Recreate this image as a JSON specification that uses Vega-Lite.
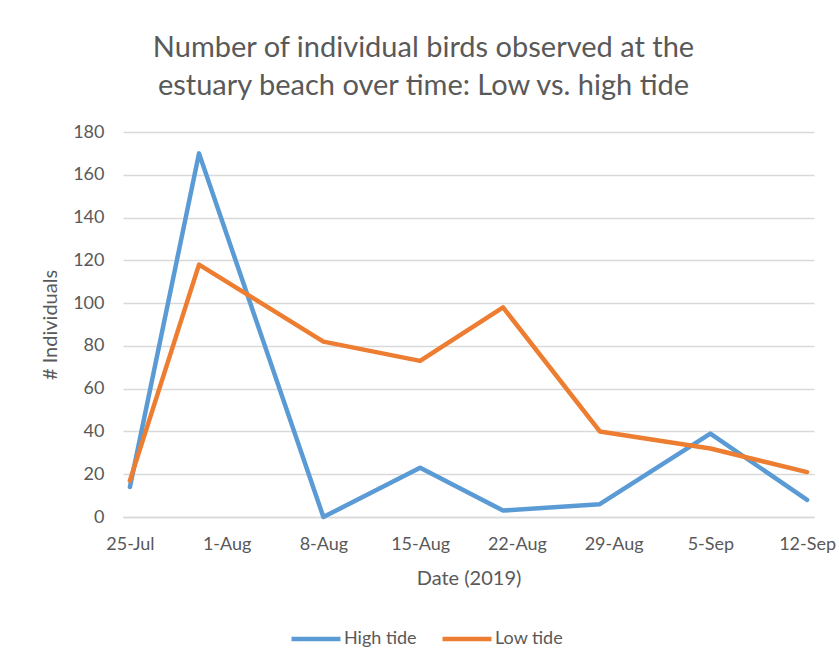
{
  "$schema": "https://vega.github.io/schema/vega-lite/v6.json",
  "width": 691,
  "height": 385,
  "autosize": {"type": "none"},
  "padding": {"left": 123, "top": 132, "right": 25, "bottom": 154},
  "background": "white",
  "title": {
    "text": ["Number of individual birds observed at the", "estuary beach over time: Low vs. high tide"],
    "font": "Lato",
    "fontSize": 29,
    "fontWeight": "normal",
    "color": "#595959",
    "anchor": "middle",
    "frame": "group",
    "dx": -45,
    "offset": 22,
    "lineHeight": 38
  },
  "data": {
    "values": [
      {"date": "2019-07-25T00:00", "tide": "High tide", "count": 14},
      {"date": "2019-07-30T00:00", "tide": "High tide", "count": 170},
      {"date": "2019-08-08T00:00", "tide": "High tide", "count": 0},
      {"date": "2019-08-15T00:00", "tide": "High tide", "count": 23},
      {"date": "2019-08-21T00:00", "tide": "High tide", "count": 3},
      {"date": "2019-08-28T00:00", "tide": "High tide", "count": 6},
      {"date": "2019-09-05T00:00", "tide": "High tide", "count": 39},
      {"date": "2019-09-12T00:00", "tide": "High tide", "count": 8},
      {"date": "2019-07-25T00:00", "tide": "Low tide", "count": 17},
      {"date": "2019-07-30T00:00", "tide": "Low tide", "count": 118},
      {"date": "2019-08-08T00:00", "tide": "Low tide", "count": 82},
      {"date": "2019-08-15T00:00", "tide": "Low tide", "count": 73},
      {"date": "2019-08-21T00:00", "tide": "Low tide", "count": 98},
      {"date": "2019-08-28T00:00", "tide": "Low tide", "count": 40},
      {"date": "2019-09-05T00:00", "tide": "Low tide", "count": 32},
      {"date": "2019-09-12T00:00", "tide": "Low tide", "count": 21}
    ]
  },
  "mark": {"type": "line", "strokeWidth": 4.5, "strokeCap": "round", "strokeJoin": "round"},
  "encoding": {
    "x": {
      "field": "date",
      "type": "temporal",
      "scale": {"domain": [{"year": 2019, "month": 7, "date": 24, "hours": 12}, {"year": 2019, "month": 9, "date": 12, "hours": 12}]},
      "axis": {
        "title": "Date (2019)",
        "format": "%-d-%b",
        "values": [
          {"year": 2019, "month": 7, "date": 25},
          {"year": 2019, "month": 8, "date": 1},
          {"year": 2019, "month": 8, "date": 8},
          {"year": 2019, "month": 8, "date": 15},
          {"year": 2019, "month": 8, "date": 22},
          {"year": 2019, "month": 8, "date": 29},
          {"year": 2019, "month": 9, "date": 5},
          {"year": 2019, "month": 9, "date": 12}
        ],
        "grid": false,
        "domain": true,
        "domainColor": "#d9d9d9",
        "domainWidth": 1.3,
        "ticks": false,
        "labelPadding": 18,
        "labelFlush": false,
        "labelOverlap": false,
        "titlePadding": 15
      }
    },
    "y": {
      "field": "count",
      "type": "quantitative",
      "scale": {"domain": [0, 180]},
      "axis": {
        "title": "# Individuals",
        "values": [0, 20, 40, 60, 80, 100, 120, 140, 160, 180],
        "domain": false,
        "ticks": false,
        "grid": true,
        "gridColor": "#d9d9d9",
        "gridWidth": 1.3,
        "labelPadding": 19,
        "titlePadding": 12
      }
    },
    "color": {
      "field": "tide",
      "type": "nominal",
      "scale": {"domain": ["High tide", "Low tide"], "range": ["#5B9BD5", "#ED7D31"]},
      "legend": {
        "title": null,
        "orient": "none",
        "direction": "horizontal",
        "legendX": 166,
        "legendY": 480,
        "symbolType": "stroke",
        "symbolSize": 2401,
        "symbolStrokeWidth": 4.5,
        "labelOffset": 1,
        "columnPadding": 16,
        "labelFont": "Lato",
        "labelFontSize": 18,
        "labelColor": "#595959"
      }
    }
  },
  "config": {
    "view": {"stroke": null},
    "axis": {
      "labelFont": "Lato",
      "labelFontSize": 18,
      "labelColor": "#595959",
      "titleFont": "Lato",
      "titleFontSize": 20,
      "titleFontWeight": "normal",
      "titleColor": "#595959"
    }
  }
}
